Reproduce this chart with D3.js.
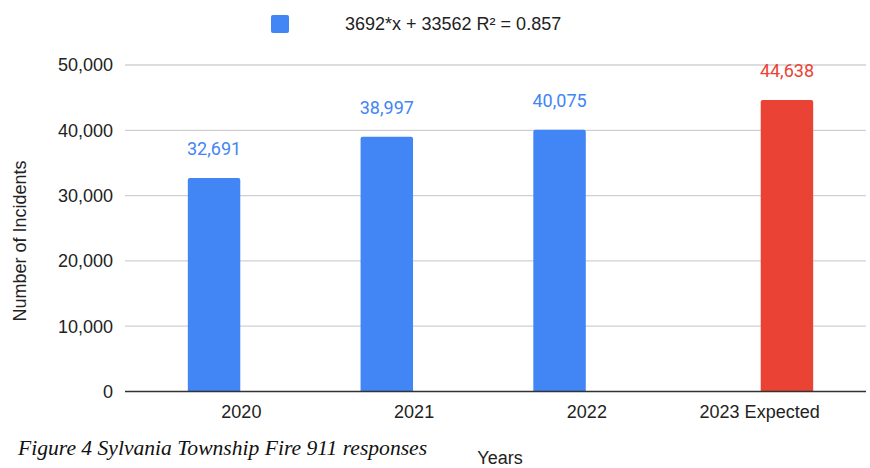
<!DOCTYPE html>
<html>
<head>
<meta charset="utf-8">
<script src="https://cdn.jsdelivr.net/npm/d3@7"></script>
<style>
  body { margin: 0; background: #fff; }
  svg { display: block; }
</style>
</head>
<body>
<div id="chart"></div>
<script>
// data
const categories = ["2020", "2021", "2022", "2023 Expected"];
const seriesNames = ["actual", "expected"];
const actualValues = [32691, 38997, 40075, null];
const expectedValues = [null, null, null, 44638];
const yTicks = [0, 10000, 20000, 30000, 40000, 50000];
const legendLabel = "3692*x + 33562 R² = 0.857";
const captionText = "Figure 4 Sylvania Township Fire 911 responses";

const width = 870;
const height = 468;
const colors = { actual: "#4285f4", expected: "#ea4335" };

const svg = d3
  .select("#chart")
  .append("svg")
  .attr("width", width)
  .attr("height", height);

// scales
const x0 = d3
  .scaleBand()
  .domain(categories)
  .range([155, 846])
  .paddingInner(0.38)
  .paddingOuter(0.19);

const x1 = d3
  .scaleBand()
  .domain(seriesNames)
  .range([0, x0.bandwidth()])
  .paddingInner(0.04);

const y = d3.scaleLinear().domain([0, 50000]).range([391.5, 65]);

// gridlines
svg
  .append("g")
  .selectAll("line")
  .data(yTicks.slice(1))
  .join("line")
  .attr("x1", 125)
  .attr("x2", 866)
  .attr("y1", (d) => y(d))
  .attr("y2", (d) => y(d))
  .attr("stroke", "#d0d0d0")
  .attr("stroke-width", 1.3);

// y tick labels
svg
  .append("g")
  .selectAll("text")
  .data(yTicks)
  .join("text")
  .attr("x", 113)
  .attr("y", (d) => y(d))
  .attr("dy", "0.35em")
  .attr("text-anchor", "end")
  .attr("font-family", "Arial, 'Liberation Sans', sans-serif")
  .attr("font-size", 18)
  .attr("fill", "#222")
  .text((d) => d3.format(",")(d));

// rows for grouped bars
const rows = categories.map((c, i) => ({
  cat: c,
  values: [
    { key: "actual", value: actualValues[i] },
    { key: "expected", value: expectedValues[i] },
  ].filter((v) => v.value !== null),
}));

const groups = svg
  .append("g")
  .selectAll("g")
  .data(rows)
  .join("g")
  .attr("transform", (d) => `translate(${x0(d.cat)},0)`);

groups
  .selectAll("path")
  .data((d) => d.values)
  .join("path")
  .attr("fill", (d) => colors[d.key])
  .attr("d", (d) => {
    const bx = x1(d.key);
    const bw = x1.bandwidth();
    const top = y(d.value);
    const bottom = y(0);
    const r = 2;
    return `M${bx},${bottom}V${top + r}Q${bx},${top} ${bx + r},${top}H${bx + bw - r}Q${bx + bw},${top} ${bx + bw},${top + r}V${bottom}Z`;
  });

// data labels
groups
  .selectAll("text")
  .data((d) => d.values)
  .join("text")
  .attr("x", (d) => x1(d.key) + x1.bandwidth() / 2)
  .attr("y", (d) => y(d.value) - 23)
  .attr("text-anchor", "middle")
  .attr("font-family", "Roboto, Arial, sans-serif")
  .attr("font-size", 18)
  .attr("fill", (d) => colors[d.key])
  .text((d) => d3.format(",")(d.value));

// baseline
svg
  .append("line")
  .attr("x1", 125)
  .attr("x2", 866)
  .attr("y1", y(0))
  .attr("y2", y(0))
  .attr("stroke", "#333")
  .attr("stroke-width", 1.3);

// x labels
svg
  .append("g")
  .selectAll("text")
  .data(categories)
  .join("text")
  .attr("x", (d) => x0(d) + x0.bandwidth() / 2)
  .attr("y", 418)
  .attr("text-anchor", "middle")
  .attr("font-family", "Arial, 'Liberation Sans', sans-serif")
  .attr("font-size", 18)
  .attr("fill", "#222")
  .text((d) => d);

// axis titles
svg
  .append("text")
  .attr("transform", "translate(26,241) rotate(-90)")
  .attr("text-anchor", "middle")
  .attr("font-family", "Arial, 'Liberation Sans', sans-serif")
  .attr("font-size", 18)
  .attr("fill", "#222")
  .text("Number of Incidents");

svg
  .append("text")
  .attr("x", 500)
  .attr("y", 464)
  .attr("text-anchor", "middle")
  .attr("font-family", "Arial, 'Liberation Sans', sans-serif")
  .attr("font-size", 18)
  .attr("fill", "#222")
  .text("Years");

// legend
svg
  .append("rect")
  .attr("x", 271)
  .attr("y", 15)
  .attr("width", 18)
  .attr("height", 18)
  .attr("rx", 2)
  .attr("fill", colors.actual);

svg
  .append("text")
  .attr("x", 345)
  .attr("y", 30)
  .attr("font-family", "Arial, 'Liberation Sans', sans-serif")
  .attr("font-size", 18)
  .attr("fill", "#222")
  .text(legendLabel);

// caption
svg
  .append("text")
  .attr("x", 18)
  .attr("y", 455)
  .attr("font-family", "'Times New Roman', 'Liberation Serif', serif")
  .attr("font-style", "italic")
  .attr("font-size", 21.6)
  .attr("fill", "#111")
  .text(captionText);
</script>
</body>
</html>
